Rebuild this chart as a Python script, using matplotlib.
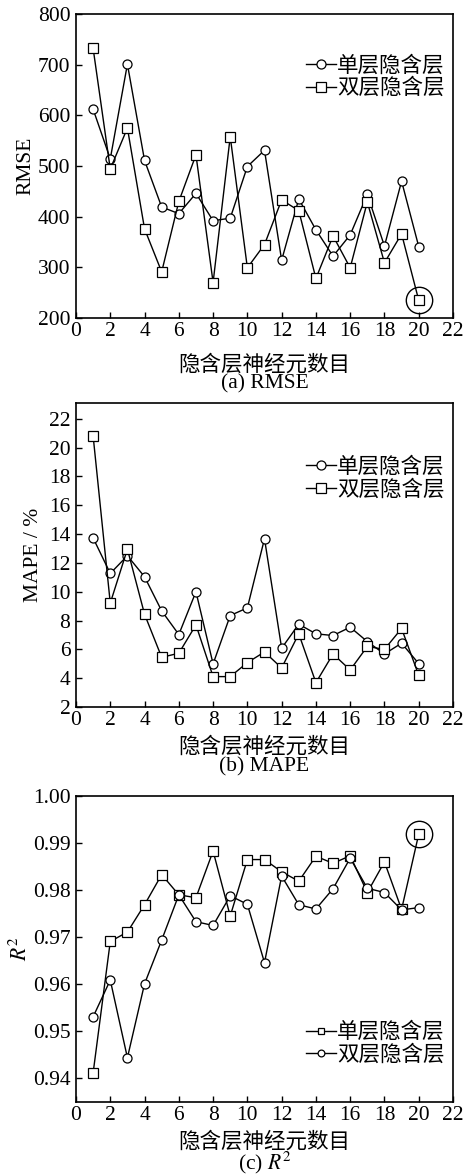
import numpy as np
import matplotlib
matplotlib.use("Agg")
import matplotlib.pyplot as plt

plt.rcParams['font.family'] = ['Liberation Serif', 'Noto Sans CJK SC']
plt.rcParams['mathtext.fontset'] = 'stix'

neurons = np.arange(1, 21)

rmse_single = [612, 514, 701, 511, 419, 406, 446, 392, 397, 499,
               531, 314, 435, 374, 322, 364, 444, 342, 470, 341]
rmse_double = [732, 494, 575, 376, 291, 430, 522, 270, 558, 299,
               345, 433, 412, 278, 362, 299, 429, 309, 366, 235]

mape_single = [13.73, 11.27, 12.5, 11.04, 8.67, 7.03, 10.0, 4.99, 8.35, 8.88,
               13.68, 6.08, 7.75, 7.08, 6.96, 7.54, 6.54, 5.68, 6.43, 5.01]
mape_double = [20.8, 9.21, 12.96, 8.44, 5.45, 5.73, 7.7, 4.11, 4.11, 5.08,
               5.82, 4.71, 7.08, 3.69, 5.68, 4.57, 6.2, 6.0, 7.45, 4.2]

r2_square = [0.9412, 0.9691, 0.9711, 0.9769, 0.9833, 0.9790, 0.9784, 0.9883, 0.9745, 0.9865,
             0.9865, 0.9839, 0.9819, 0.9872, 0.9857, 0.9873, 0.9795, 0.9860, 0.9759, 0.9919]
r2_circle = [0.9531, 0.9609, 0.9444, 0.9601, 0.9694, 0.9790, 0.9733, 0.9725, 0.9788, 0.9770,
             0.9646, 0.9830, 0.9769, 0.9760, 0.9803, 0.9868, 0.9804, 0.9795, 0.9758, 0.9763]

W, H = 466, 1174
fig = plt.figure(figsize=(W / 100., H / 100.), dpi=100)

FS = 15.5
lw = 1.0
ms = 6.5


def panel(top, bottom, ylim, yticks, yfmt):
    ax = fig.add_axes([76. / W, 1 - bottom / H, 377. / W, (bottom - top) / H])
    ax.set_xlim(0, 22)
    ax.set_ylim(*ylim)
    ax.set_xticks(range(0, 23, 2))
    ax.set_yticks(yticks)
    ax.set_yticklabels([yfmt % v for v in yticks])
    ax.tick_params(direction='in', length=4, width=1, labelsize=FS,
                   top=False, right=False)
    ax.tick_params(axis='y', pad=4)
    ax.tick_params(axis='x', pad=3)
    for s in ax.spines.values():
        s.set_linewidth(1.2)
    return ax


def style(marker, size=ms):
    return dict(color='black', lw=lw, marker=marker, markersize=size,
                markerfacecolor='white', markeredgecolor='black', markeredgewidth=0.9)


leg_kw = dict(frameon=False, fontsize=FS, handlelength=1.4, handletextpad=0.05,
              labelspacing=0.1, borderaxespad=0)

# (a) RMSE
ax1 = panel(14, 318, (200, 800), range(200, 801, 100), '%d')
ax1.plot(neurons, rmse_single, label='单层隐含层', **style('o'))
ax1.plot(neurons, rmse_double, label='双层隐含层', **style('s'))
ax1.plot(neurons[-1], rmse_double[-1], 'o', ms=19, mfc='none', mec='black', mew=1.0)
ax1.legend(loc='upper right', bbox_to_anchor=(1.0, 0.89), **leg_kw)
ax1.set_ylabel('RMSE', fontsize=FS, labelpad=2)
fig.text(264.5 / W, 1 - 365. / H, '隐含层神经元数目', ha='center', va='center', fontsize=FS)
fig.text(264.5 / W, 1 - 384. / H, '(a) RMSE', ha='center', va='center', fontsize=FS)

# (b) MAPE
ax2 = panel(403, 707, (2, 23.1), range(2, 23, 2), '%d')
ax2.plot(neurons, mape_single, label='单层隐含层', **style('o'))
ax2.plot(neurons, mape_double, label='双层隐含层', **style('s'))
ax2.legend(loc='upper right', bbox_to_anchor=(1.0, 0.85), **leg_kw)
ax2.set_ylabel('MAPE / %', fontsize=FS, labelpad=4)
fig.text(264.5 / W, 1 - 747. / H, '隐含层神经元数目', ha='center', va='center', fontsize=FS)
fig.text(264.5 / W, 1 - 767. / H, '(b) MAPE', ha='center', va='center', fontsize=FS)

# (c) R2
ax3 = panel(796, 1102, (0.935, 1.0), np.arange(0.94, 1.0001, 0.01), '%.2f')
ax3.plot(neurons, r2_square, label='单层隐含层', **style('s'))
ax3.plot(neurons, r2_circle, label='双层隐含层', **style('o'))
ax3.plot(neurons[-1], r2_square[-1], 'o', ms=19, mfc='none', mec='black', mew=1.0)
ax3.legend(loc='lower right', bbox_to_anchor=(1.0, 0.09), markerscale=0.75, **leg_kw)
ax3.set_ylabel('$R^2$', fontsize=FS, labelpad=1)
fig.text(264.5 / W, 1 - 1142. / H, '隐含层神经元数目', ha='center', va='center', fontsize=FS)
fig.text(264.5 / W, 1 - 1163. / H, '(c) $R^2$', ha='center', va='center', fontsize=FS)

fig.savefig('out.png', dpi=100)
